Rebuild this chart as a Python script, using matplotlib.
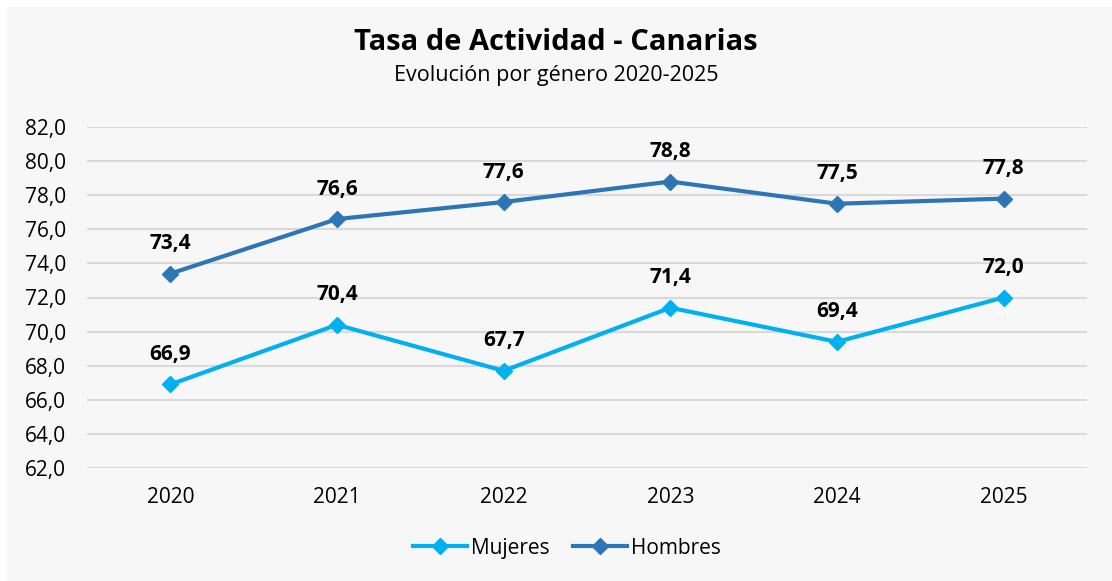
import matplotlib.pyplot as plt
from matplotlib.patches import Rectangle

years = ["2020", "2021", "2022", "2023", "2024", "2025"]
mujeres = [66.9, 70.4, 67.7, 71.4, 69.4, 72.0]
hombres = [73.4, 76.6, 77.6, 78.8, 77.5, 77.8]
yticks = [62, 64, 66, 68, 70, 72, 74, 76, 78, 80, 82]

plt.rcParams['font.family'] = ['Open Sans', 'DejaVu Sans']

W, H = 1112, 581
fig = plt.figure(figsize=(W / 100, H / 100), dpi=100)
fig.patch.set_facecolor("white")
# grey panel, leaving a thin white strip at top/left
fig.patches.append(Rectangle((7 / W, 0), 1 - 7 / W, 1 - 7 / H, transform=fig.transFigure,
                             facecolor="#f7f7f7", edgecolor="none", zorder=-10))

ax = fig.add_axes([87 / W, 1 - 468 / H, 1000 / W, (468 - 127) / H])
ax.set_facecolor("none")

x = list(range(len(years)))
ax.plot(x, mujeres, color="#00b0f0", lw=3, marker="D", ms=8, label="Mujeres", zorder=3)
ax.plot(x, hombres, color="#2e75b6", lw=3, marker="D", ms=8, label="Hombres", zorder=3)

for xi, v in zip(x, mujeres):
    ax.annotate(f"{v:.1f}".replace(".", ","), (xi, v), xytext=(0, 14), textcoords="offset points",
                ha="center", va="bottom", fontsize=15, fontweight="bold", color="black")
for xi, v in zip(x, hombres):
    ax.annotate(f"{v:.1f}".replace(".", ","), (xi, v), xytext=(0, 14), textcoords="offset points",
                ha="center", va="bottom", fontsize=15, fontweight="bold", color="black")

ax.set_xlim(-0.5, len(years) - 0.5)
ax.set_ylim(62, 82)
ax.set_yticks(yticks)
ax.set_yticklabels([f"{t:.1f}".replace(".", ",") for t in yticks], fontsize=15)
ax.set_xticks(x)
ax.set_xticklabels(years, fontsize=15)
ax.tick_params(length=0)
ax.tick_params(axis="y", pad=15)
ax.tick_params(axis="x", pad=14)
ax.grid(axis="y", color="#d9d9d9", lw=1.5)
ax.set_axisbelow(True)
for s in ax.spines.values():
    s.set_visible(False)

fig.text(0.5, 1 - 42 / H, "Tasa de Actividad - Canarias", ha="center", va="center",
         fontsize=21, fontweight="bold")
fig.text(0.5, 1 - 75 / H, "Evolución por género 2020-2025", ha="center", va="center", fontsize=15.5)

ax.legend(loc="center", bbox_to_anchor=(0.48, -0.235), ncol=2, frameon=False, fontsize=15,
          handlelength=2.6, columnspacing=1.1, handletextpad=0.2)

fig.savefig("out.png", dpi=100)
